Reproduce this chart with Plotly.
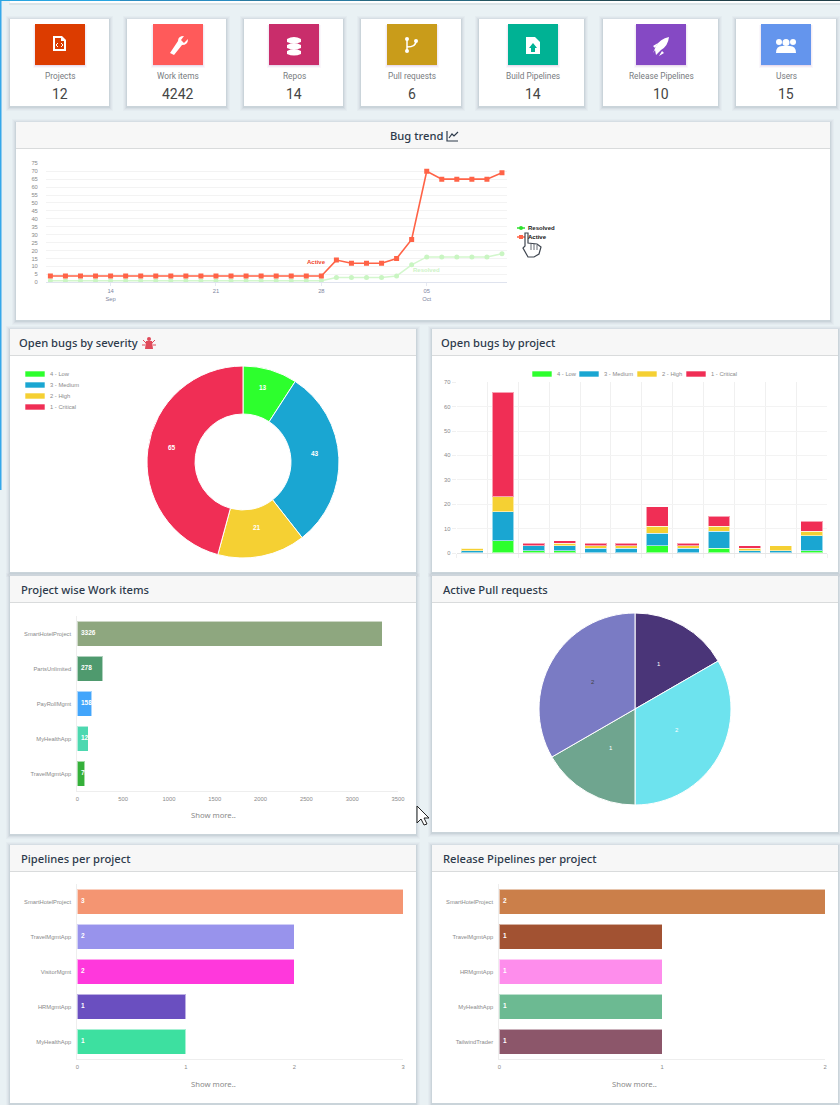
# Dashboard with stat cards, bug trend and project breakdowns, using plotly

import math
import re

import pandas as pd
import plotly.graph_objs as go

W = 840
H = 1105

stat_names = ['Projects', 'Work items', 'Repos', 'Pull requests', 'Build Pipelines', 'Release Pipelines', 'Users']
stat_values = ['12', '4242', '14', '6', '14', '10', '15']
stat_colors = ['#dc3c00', '#ff5a5a', '#c92d6b', '#c99c1a', '#00b294', '#8549c4', '#6495ed']

trend_dates = pd.date_range('2019-09-10', '2019-10-10')
trend_active = [4, 4, 4, 4, 4, 4, 4, 4, 4, 4, 4, 4, 4, 4, 4, 4, 4, 4, 4, 14, 12, 12, 12, 15, 27, 70, 65, 65, 65, 65, 69]
trend_resolved = [1, 1, 1, 1, 1, 1, 1, 1, 1, 1, 1, 1, 1, 1, 1, 1, 1, 1, 1, 3, 3, 3, 3, 4, 11, 16, 16, 16, 16, 16, 18]
trend_ticks = ['2019-09-14', '2019-09-21', '2019-09-28', '2019-10-05']
trend_ticktext = ['14<br>Sep', '21', '28', '05<br>Oct']

severity_names = ['4 - Low', '3 - Medium', '2 - High', '1 - Critical']
severity_values = [13, 43, 21, 65]
severity_colors = ['#2dff2d', '#1aa6d2', '#f5d033', '#f02e55']

project_ids = [0, 1, 2, 3, 4, 5, 6, 7, 8, 9, 10, 11]
project_low = [0, 5, 1, 1, 0, 0, 3, 0, 2, 0, 0, 1]
project_medium = [1, 12, 2, 2, 2, 2, 5, 2, 7, 1, 1, 6]
project_high = [1, 6, 0, 1, 1, 1, 3, 1, 2, 1, 2, 2]
project_critical = [0, 43, 1, 1, 1, 1, 8, 1, 4, 1, 0, 4]

work_names = ['SmartHotelProject', 'PartsUnlimited', 'PayRollMgmt', 'MyHealthApp', 'TravelMgmtApp']
work_values = [3326, 278, 158, 122, 79]
work_colors = ['#8ea77f', '#4f9a6e', '#42a5fb', '#4dd8b0', '#35b03a']

pull_values = [1, 2, 1, 2]
pull_colors = ['#4a3578', '#6de3ee', '#6fa58f', '#7a7bc4']
pull_text_colors = ['#ffffff', '#ffffff', '#ffffff', '#444444']

pipe_names = ['SmartHotelProject', 'TravelMgmtApp', 'VisitorMgmt', 'HRMgmtApp', 'MyHealthApp']
pipe_values = [3, 2, 2, 1, 1]
pipe_colors = ['#f49572', '#9893ec', '#ff38dc', '#6a4fc0', '#3de0a0']

release_names = ['SmartHotelProject', 'TravelMgmtApp', 'HRMgmtApp', 'MyHealthApp', 'TailwindTrader']
release_values = [2, 1, 1, 1, 1]
release_colors = ['#cb7f4a', '#a25232', '#fe8dec', '#6cba92', '#8c566a']

TITLE_FONT = 'Noto Sans'
CHART_FONT = 'Liberation Sans'
GRAY = '#8a8a8a'
BG = '#e9f1f4'

shapes = []
annotations = []


def fx(x):
  return x / W


def fy(y):
  return 1 - y / H


def dom_x(a, b):
  return [fx(a), fx(b)]


def dom_y(top, bottom):
  return [fy(bottom), fy(top)]


# Pixel path -> paper path, numbers alternate x and y
def paper_path(d):
  nums = {'i': 0}

  def conv(m):
    v = float(m.group(0))
    nums['i'] += 1
    return str(fx(v) if nums['i'] % 2 == 1 else fy(v))

  return re.sub(r'-?\d+\.?\d*', conv, d)


def rect(x0, y0, x1, y1, fill, line=None, layer='below'):
  shapes.append(dict(type='rect', xref='paper', yref='paper', x0=fx(x0), x1=fx(x1), y0=fy(y0), y1=fy(y1),
                     fillcolor=fill, line=dict(width=1 if line else 0, color=line or fill), layer=layer))


def circle(x0, y0, x1, y1, fill, line=None, layer='below'):
  shapes.append(dict(type='circle', xref='paper', yref='paper', x0=fx(x0), x1=fx(x1), y0=fy(y0), y1=fy(y1),
                     fillcolor=fill, line=dict(width=1 if line else 0, color=line or fill), layer=layer))


def path(d, fill='rgba(0,0,0,0)', line=None, width=1, layer='below'):
  shapes.append(dict(type='path', xref='paper', yref='paper', path=paper_path(d), fillcolor=fill,
                     line=dict(width=width if line else 0, color=line or fill), layer=layer))


def text(x, y, s, size, color, font=CHART_FONT, anchor='center', weight=None):
  f = dict(family=font, size=size, color=color)
  if weight:
    f['weight'] = weight
  annotations.append(dict(xref='paper', yref='paper', x=fx(x), y=fy(y), text=s, showarrow=False, xanchor=anchor,
                          yanchor='middle', font=f))


def card(x0, y0, x1, y1, title=None, header=None, centered=False, title_x=9):
  for grow, alpha in [(4, 0.03), (3, 0.04), (2, 0.06), (1, 0.09)]:
    rect(x0 - grow, y0 - grow + 1, x1 + grow, y1 + grow + 1, 'rgba(90,110,120,%s)' % alpha)
  rect(x0, y0, x1, y1, '#ffffff')
  if header:
    rect(x0, y0, x1, header, '#f7f7f7')
    rect(x0, header, x1, header + 1, '#d9dbdc')
  if title:
    if centered:
      text((x0 + x1) / 2 - 7, (y0 + header) / 2, title, 11.2, '#2d3a4b', TITLE_FONT, weight=500)
    else:
      text(x0 + title_x, (y0 + header) / 2, title, 11.2, '#2d3a4b', TITLE_FONT, 'left', weight=500)


# Chart.js style legend rows
def legend_row(x, y, name, color):
  rect(x, y - 3, x + 20, y + 3, color, 'rgba(255,255,255,0.6)')
  text(x + 23, y, name, 5.8, GRAY, anchor='left')


# Value labels sit halfway along each slice, as the datalabels plugin does
def slice_labels(values, colors, cx, cy, radius, size, weight=None):
  total = sum(values)
  start = 0
  for i in range(len(values)):
    mid = (start + values[i] / 2) / total * 2 * math.pi
    text(cx + radius * math.sin(mid), cy - radius * math.cos(mid), str(values[i]), size, colors[i], weight=weight)
    start += values[i]


def hbar(name, values, colors, xaxis, yaxis):
  data = []
  data.append(go.Bar(y=name, x=values, orientation='h', marker=dict(color=colors, line=dict(color='rgba(255,255,255,0.55)', width=1)),
                     width=25 / 35, xaxis=xaxis, yaxis=yaxis, showlegend=False, hoverinfo='skip'))
  data.append(go.Scatter(y=name, x=[0] * len(values), mode='text', text=['\u00a0\u00a0' + str(v) for v in values], textposition='middle right',
                         textfont=dict(family=CHART_FONT, size=6.5, color='#ffffff', weight='bold'), xaxis=xaxis, yaxis=yaxis,
                         showlegend=False, hoverinfo='skip', cliponaxis=False))
  return data


# Page frame
rect(0, 0, W, H, BG)
top_colors = ['#29a5e0', '#2a8cc0', '#2a7aa0', '#276880', '#245560', '#224a54', '#203f48']
for i in range(len(top_colors)):
  rect(i * 120, 0, (i + 1) * 120, 1, top_colors[i])
rect(10, 1, 840, 3, '#ffffff')
rect(9, 3, 840, 5, 'rgba(90,110,120,0.10)')
rect(0, 1, 1.5, 490, '#35a8ea')

# Stat cards
card_boxes = [(10, 109), (127, 226), (244, 343), (361, 461), (479, 584), (603, 718), (736, 836)]
icon_left = [35, 153, 269, 387, 508, 636, 761]
for i in range(len(stat_names)):
  card(card_boxes[i][0], 19, card_boxes[i][1], 106)
  left = icon_left[i]
  for grow, alpha in [(3, 0.04), (2, 0.06), (1, 0.09)]:
    rect(left - grow + 1, 25, left + 50 + grow - 1, 65 + grow, 'rgba(130,60,150,%s)' % alpha)
  rect(left, 24, left + 50, 65, stat_colors[i])
  text(left + 25, 76, stat_names[i], 8.3, '#777b80', 'Roboto')
  text(left + 25, 93.5, stat_values[i], 14, '#454545', 'Roboto')

# Icon glyphs, all white
path('M53 36 L62 36 L66 40 L66 51 L53 51 Z', '#ffffff')
path('M55 38 L61 38 L61 41 L64 41 L64 49 L55 49 Z', stat_colors[0])
path('M58 43 L56 45 L58 47 M61 43 L63 45 L61 47', line='#ffffff', width=1)
path('M170 53 L178 41 Q178 36 184 36 L181 40 L184 43 L188 39 Q188 45 182 45 L174 55 Z', '#ffffff')
for top in [37, 43, 49]:
  path('M287 %d Q294 %d 301 %d L301 %d Q294 %d 287 %d Z' % (top + 2, top - 2, top + 2, top + 5, top + 8, top + 5), '#ffffff')
circle(405, 37, 409, 41, '#ffffff')
circle(405, 49, 409, 53, '#ffffff')
circle(414, 39, 418, 43, '#ffffff')
path('M407 38 L407 52 M407 47 Q416 47 416 41', line='#ffffff', width=1.5)
path('M526 37 L535 37 L540 42 L540 54 L526 54 Z', '#ffffff')
path('M533 43 L537 48 L535 48 L535 52 L531 52 L531 48 L529 48 Z', stat_colors[4])
path('M653 53 L656 46 Q660 39 669 37 Q668 46 661 50 L656 55 L655 50 Z', '#ffffff')
path('M653 46 L658 43 L655 48 Z M662 51 L659 56 L664 53 Z', '#ffffff')
for cx, r in [(779, 3), (786, 3.5), (793, 3)]:
  circle(cx - r, 39, cx + r, 39 + 2 * r, '#ffffff')
path('M776 53 Q776 46 782 46 L790 46 Q796 46 796 53 Z', '#ffffff')

# Section cards
card(16, 122, 830, 320, 'Bug trend', 148, True)
card(10, 329, 416, 572, 'Open bugs by severity', 355, title_x=7)
card(432, 329, 838, 572, 'Open bugs by project', 355, title_x=7)
card(10, 576, 416, 834, 'Project wise Work items', 602)
card(432, 576, 838, 832, 'Active Pull requests', 602)
card(10, 845, 416, 1103, 'Pipelines per project', 871)
card(432, 845, 838, 1103, 'Release Pipelines per project', 871)
text(213, 815, 'Show more..', 7.7, GRAY, 'Noto Sans')
text(213, 1084, 'Show more..', 7.7, GRAY, 'Noto Sans')
text(634, 1084, 'Show more..', 7.7, GRAY, 'Noto Sans')

# Title icons
path('M447 131 L447 141 L458 141 M449 138 L452 134 L454 136 L458 132', line='#2d3a4b', width=1.2)
path('M146 341 L152 341 L153 349 L145 349 Z', '#e04a5a')
circle(147, 337, 151, 341, '#e04a5a')
path('M143 340 L146 343 M155 340 L152 343 M142 345 L145 345 M156 345 L153 345', line='#e04a5a', width=1)

data = []

# Bug trend
data.append(go.Scatter(x=trend_dates, y=trend_resolved, mode='lines+markers', line=dict(color='#d3f7cd', width=1.5),
                       marker=dict(symbol='circle', size=5, color='#c9f5c2'), xaxis='x', yaxis='y', showlegend=False, hoverinfo='skip'))
data.append(go.Scatter(x=trend_dates, y=trend_active, mode='lines+markers', line=dict(color='#ff6347', width=1.6),
                       marker=dict(symbol='square', size=5, color='#ff6347'), xaxis='x', yaxis='y', showlegend=False, hoverinfo='skip'))
annotations.append(dict(xref='x', yref='y', x='2019-09-28', y=13, text='<b>Active</b>', showarrow=False, xanchor='right', xshift=7,
                        font=dict(family=CHART_FONT, size=6, color='#f0452d')))
annotations.append(dict(xref='x', yref='y', x='2019-10-05', y=8, text='<b>Resolved</b>', showarrow=False,
                        font=dict(family=CHART_FONT, size=6, color='#cdf3c6')))

# Trend legend and pointer
path('M517 228 L525 228', line='#2de02d', width=1.5)
circle(519, 226, 523, 230, '#2de02d')
text(526, 228, '<b>Resolved</b>', 6, '#222222', anchor='left')
path('M517 237 L525 237', line='#ff6347', width=1.5)
rect(519, 235, 523, 239, '#ff6347')
text(526, 237, '<b>Active</b>', 6, '#111111', anchor='left')
path('M525 233 L528 233 L528 243 L537 244 L541 247 L539 254 L534 257 L528 257 L523 248 L525 246 Z', '#ffffff', '#3f4650', 1.2, 'above')
path('M531 244 L531 250 M534 244 L534 250 M537 245 L537 250', line='#3f4650', width=0.8, layer='above')

# Severity donut
data.append(go.Pie(values=severity_values, labels=severity_names, hole=0.5, sort=False, direction='clockwise',
                   marker=dict(colors=severity_colors, line=dict(color='#ffffff', width=1)), textinfo='none',
                   domain=dict(x=dom_x(147, 339), y=dom_y(366, 558)), showlegend=False, hoverinfo='skip'))
slice_labels(severity_values, ['#ffffff'] * 4, 243, 457, 72, 6.5, 'bold')
for i in range(len(severity_names)):
  legend_row(25, 374 + i * 11, severity_names[i], severity_colors[i])

# Bugs per project
for i, series in enumerate([project_low, project_medium, project_high, project_critical]):
  data.append(go.Bar(x=project_ids, y=series, marker=dict(color=severity_colors[i], line=dict(color='rgba(255,255,255,0.55)', width=1)),
                     width=0.71, xaxis='x2', yaxis='y2', showlegend=False, hoverinfo='skip'))
legend_x = [532, 579, 637, 686]
for i in range(len(severity_names)):
  legend_row(legend_x[i], 374, severity_names[i], severity_colors[i])

# Work items
data += hbar(work_names, work_values, work_colors, 'x3', 'y3')

# Active pull requests
data.append(go.Pie(values=pull_values, sort=False, direction='clockwise', marker=dict(colors=pull_colors, line=dict(color='#ffffff', width=1)),
                   textinfo='none', domain=dict(x=dom_x(539, 731), y=dom_y(613, 805)), showlegend=False, hoverinfo='skip'))
slice_labels(pull_values, pull_text_colors, 635, 706, 48, 6)

# Pipelines
data += hbar(pipe_names, pipe_values, pipe_colors, 'x4', 'y4')
data += hbar(release_names, release_values, release_colors, 'x5', 'y5')

# Mouse pointer next to the work items card
path('M417 806 L417 823 L421 819 L424 825 L427 824 L424 818 L429 818 Z', '#ffffff', '#222222', 1, 'above')

tick_font = dict(family=CHART_FONT, size=5.8, color=GRAY)
line_axis = dict(showgrid=False, zeroline=False, showline=True, linecolor='#eeeeee', linewidth=1, ticks='outside',
                 tickcolor='#ffffff', tickfont=tick_font, fixedrange=True, automargin=False)

layout = go.Layout(
  template='none',
  width=W, height=H, margin=dict(l=0, r=0, t=0, b=0, pad=0), paper_bgcolor=BG, plot_bgcolor='rgba(0,0,0,0)',
  barmode='stack', showlegend=False, shapes=shapes, annotations=annotations,
  xaxis=dict(domain=dom_x(46, 507), type='date', range=['2019-09-09 17:00', '2019-10-10 08:00'], tickmode='array', tickvals=trend_ticks,
             ticktext=trend_ticktext, showgrid=False, zeroline=False, showline=True, linecolor='#dfe3ee', ticks='outside', ticklen=3,
             tickcolor='#e6e9f2', tickfont=dict(family=CHART_FONT, size=5.8, color='#7e86a0'), anchor='y', fixedrange=True),
  yaxis=dict(domain=dom_y(163.3, 282.3), range=[0, 75], tickmode='array', tickvals=list(range(0, 80, 5)), showgrid=True, gridcolor='#f3f3f3',
             zeroline=False, ticks='outside', ticklen=6, tickcolor='#ffffff', tickfont=tick_font, anchor='x', fixedrange=True),
  xaxis2=dict(domain=dom_x(456.7, 827), range=[-0.5, 11.5], tickmode='array', tickvals=[v - 0.5 for v in project_ids] + [11.5], showticklabels=False,
              showgrid=True, gridcolor='#f0f0f0', zeroline=False, showline=True, linecolor='#e6e6e6', ticks='outside', ticklen=4,
              tickcolor='#f0f0f0', anchor='y2', fixedrange=True),
  yaxis2=dict(domain=dom_y(382.3, 553), range=[0, 70], tickmode='array', tickvals=list(range(0, 80, 10)), showgrid=True, gridcolor='#f3f3f3',
              zeroline=False, ticks='outside', ticklen=4, tickcolor='#f0f0f0', tickfont=tick_font, anchor='x2', fixedrange=True),
  xaxis3=dict(domain=dom_x(77.3, 398), range=[0, 3500], tickmode='array', tickvals=list(range(0, 4000, 500)), anchor='y3', ticklen=2, **line_axis),
  yaxis3=dict(domain=dom_y(616, 791), categoryorder='array', categoryarray=work_names, autorange='reversed', anchor='x3', ticklen=4, **line_axis),
  xaxis4=dict(domain=dom_x(77.3, 403), range=[0, 3], tickmode='array', tickvals=[0, 1, 2, 3], anchor='y4', ticklen=2, **line_axis),
  yaxis4=dict(domain=dom_y(884, 1059), categoryorder='array', categoryarray=pipe_names, autorange='reversed', anchor='x4', ticklen=4, **line_axis),
  xaxis5=dict(domain=dom_x(499.3, 825), range=[0, 2], tickmode='array', tickvals=[0, 1, 2], anchor='y5', ticklen=2, **line_axis),
  yaxis5=dict(domain=dom_y(884, 1059), categoryorder='array', categoryarray=release_names, autorange='reversed', anchor='x5', ticklen=4, **line_axis),
)

fig = go.Figure(data=data, layout=layout)
fig.write_html("out.html", config=dict(displayModeBar=False), post_script="document.body.style.margin = '0';")
